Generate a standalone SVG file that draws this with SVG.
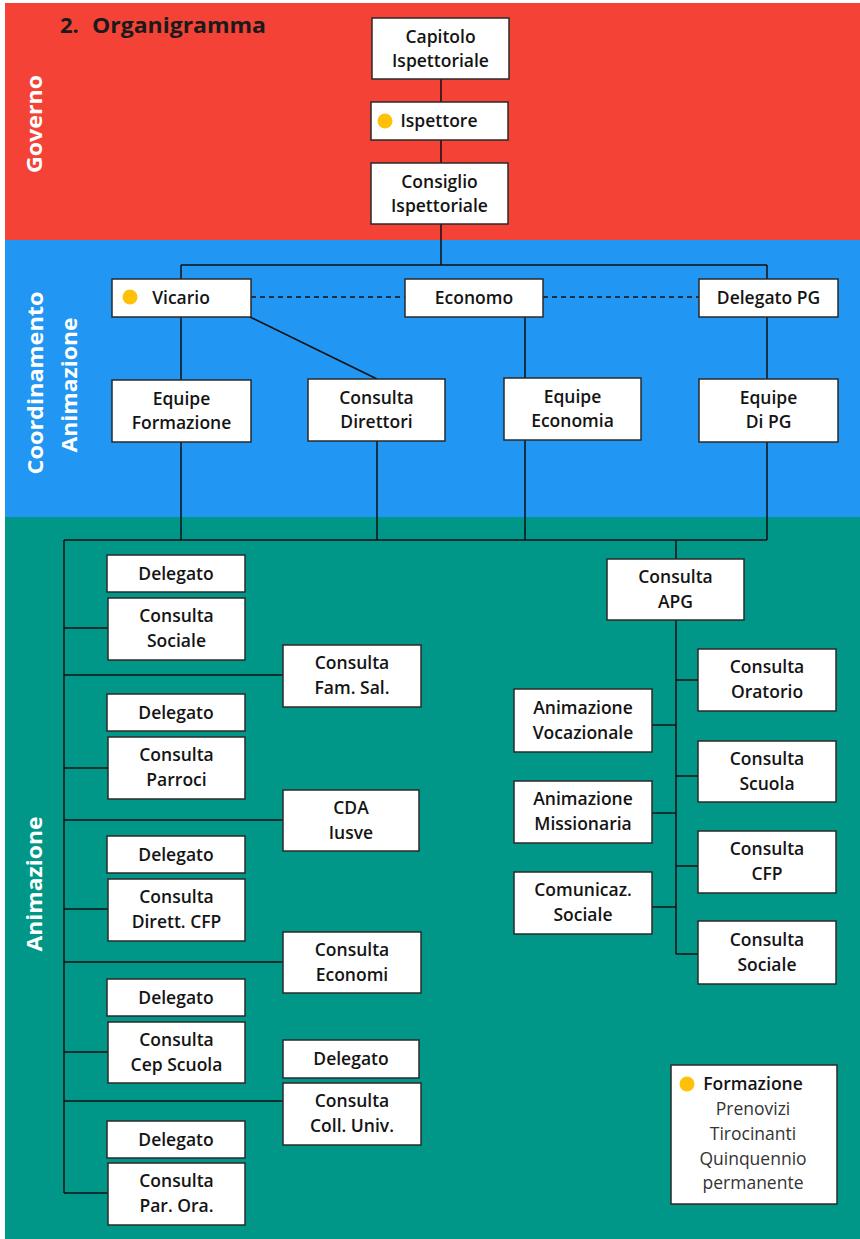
<svg xmlns="http://www.w3.org/2000/svg" width="860" height="1239" viewBox="0 0 860 1239">
<style>
.box{fill:#fff;stroke:#2a2a2a;stroke-width:1.5}
.t{font-family:"Open Sans","Noto Sans",sans-serif;font-size:17.5px;font-weight:600;fill:#141414;text-anchor:middle}
.side{font-family:"Open Sans","Noto Sans",sans-serif;font-size:22px;font-weight:700;fill:#fff;text-anchor:middle}
.lg{font-family:"Open Sans","Noto Sans",sans-serif;font-size:17.5px;font-weight:400;fill:#333;text-anchor:middle}
.ln{fill:none;stroke:#111;stroke-width:1.5}
.dash{fill:none;stroke:#111;stroke-width:1.5;stroke-dasharray:5 4}
.dot{fill:#FFC107}
</style>
<rect x="0" y="0" width="860" height="1239" fill="#fff"/>
<g id="bands">
<rect x="5" y="3" width="855" height="237" fill="#F44336"/>
<rect x="5" y="240" width="855" height="277" fill="#2196F3"/>
<rect x="5" y="517" width="855" height="722" fill="#009688"/>
</g>
<g id="labels">
<text x="60" y="33" font-family="'Open Sans','Noto Sans',sans-serif" font-size="22" font-weight="700" fill="#1a1a1a">2.</text>
<text x="92" y="33" font-family="'Open Sans','Noto Sans',sans-serif" font-size="22" font-weight="700" fill="#1a1a1a" textLength="174" lengthAdjust="spacingAndGlyphs">Organigramma</text>
<text class="side" transform="translate(42,124) rotate(-90)" textLength="98" lengthAdjust="spacingAndGlyphs">Governo</text>
<text class="side" transform="translate(43,383) rotate(-90)" textLength="183" lengthAdjust="spacingAndGlyphs">Coordinamento</text>
<text class="side" transform="translate(77,385) rotate(-90)" textLength="135" lengthAdjust="spacingAndGlyphs">Animazione</text>
<text class="side" transform="translate(42,884) rotate(-90)" textLength="135" lengthAdjust="spacingAndGlyphs">Animazione</text>
</g>
<g id="connectors">
<path class="ln" d="M441 79V102M441 140V163M441 224V265M181 265H767M181 265V279M181 317V380M767 265V279M767 317V379M250 317L377 379M525 317V378"/>
<path class="dash" d="M251 297H405M543 297H699"/>
<path class="ln" d="M181 442V540M377 441V540M525 440V540M767 442V540M64 540H767M64 540V1193"/>
<path class="ln" d="M64 628H108M64 675H283M64 768H108M64 820H283M64 909H108M64 962H283M64 1052H108M64 1101H283M64 1193H108"/>
<path class="ln" d="M676 540V559M676 620V954M676 680H698M652 725H676M676 776H698M652 813H676M676 866H698M652 907H676M676 954H698"/>
</g>
<g id="capitolo"><rect class="box" x="372" y="18" width="137" height="61"/><text class="t" x="440.5" y="43">Capitolo</text><text class="t" x="440.5" y="67">Ispettoriale</text></g>
<g id="ispettore"><rect class="box" x="371" y="102" width="137" height="38"/><circle class="dot" cx="385" cy="121" r="7.5"/><text class="t" x="439" y="127">Ispettore</text></g>
<g id="consiglio"><rect class="box" x="371" y="163" width="137" height="61"/><text class="t" x="439.5" y="188">Consiglio</text><text class="t" x="439.5" y="212">Ispettoriale</text></g>
<g id="vicario"><rect class="box" x="112" y="279" width="139" height="38"/><circle class="dot" cx="130" cy="297" r="7.5"/><text class="t" x="181" y="304">Vicario</text></g>
<g id="economo"><rect class="box" x="405" y="279" width="138" height="38"/><text class="t" x="474" y="304">Economo</text></g>
<g id="delegato-pg"><rect class="box" x="699" y="279" width="139" height="38"/><text class="t" x="768.5" y="304">Delegato PG</text></g>
<g id="equipe-formazione"><rect class="box" x="112" y="380" width="139" height="62"/><text class="t" x="181.5" y="405">Equipe</text><text class="t" x="181.5" y="429">Formazione</text></g>
<g id="consulta-direttori"><rect class="box" x="308" y="379" width="137" height="62"/><text class="t" x="376.5" y="404">Consulta</text><text class="t" x="376.5" y="428">Direttori</text></g>
<g id="equipe-economia"><rect class="box" x="504" y="378" width="137" height="62"/><text class="t" x="572.5" y="403">Equipe</text><text class="t" x="572.5" y="427">Economia</text></g>
<g id="equipe-pg"><rect class="box" x="699" y="379" width="139" height="63"/><text class="t" x="768.5" y="404">Equipe</text><text class="t" x="768.5" y="428">Di PG</text></g>
<g id="delegato-1"><rect class="box" x="107" y="555" width="138" height="37"/><text class="t" x="176" y="580">Delegato</text></g>
<g id="consulta-sociale"><rect class="box" x="108" y="598" width="137" height="62"/><text class="t" x="176.5" y="622">Consulta</text><text class="t" x="176.5" y="647">Sociale</text></g>
<g id="consulta-fam-sal"><rect class="box" x="283" y="645" width="138" height="62"/><text class="t" x="352" y="669">Consulta</text><text class="t" x="352" y="694">Fam. Sal.</text></g>
<g id="delegato-2"><rect class="box" x="107" y="694" width="138" height="37"/><text class="t" x="176" y="719">Delegato</text></g>
<g id="consulta-parroci"><rect class="box" x="108" y="737" width="137" height="62"/><text class="t" x="176.5" y="761">Consulta</text><text class="t" x="176.5" y="786">Parroci</text></g>
<g id="cda-iusve"><rect class="box" x="283" y="790" width="136" height="61"/><text class="t" x="351" y="814">CDA</text><text class="t" x="351" y="839">Iusve</text></g>
<g id="delegato-3"><rect class="box" x="107" y="836" width="138" height="37"/><text class="t" x="176" y="861">Delegato</text></g>
<g id="consulta-dirett-cfp"><rect class="box" x="108" y="879" width="137" height="62"/><text class="t" x="176.5" y="903">Consulta</text><text class="t" x="176.5" y="928">Dirett. CFP</text></g>
<g id="consulta-economi"><rect class="box" x="283" y="932" width="138" height="61"/><text class="t" x="352" y="956">Consulta</text><text class="t" x="352" y="981">Economi</text></g>
<g id="delegato-4"><rect class="box" x="107" y="979" width="138" height="37"/><text class="t" x="176" y="1004">Delegato</text></g>
<g id="consulta-cep-scuola"><rect class="box" x="108" y="1022" width="137" height="61"/><text class="t" x="176.5" y="1046">Consulta</text><text class="t" x="176.5" y="1071">Cep Scuola</text></g>
<g id="delegato-coll"><rect class="box" x="283" y="1040" width="136" height="38"/><text class="t" x="351" y="1065">Delegato</text></g>
<g id="consulta-coll-univ"><rect class="box" x="283" y="1083" width="138" height="62"/><text class="t" x="352" y="1107">Consulta</text><text class="t" x="352" y="1132">Coll. Univ.</text></g>
<g id="delegato-5"><rect class="box" x="107" y="1121" width="138" height="37"/><text class="t" x="176" y="1146">Delegato</text></g>
<g id="consulta-par-ora"><rect class="box" x="108" y="1163" width="137" height="62"/><text class="t" x="176.5" y="1187">Consulta</text><text class="t" x="176.5" y="1212">Par. Ora.</text></g>
<g id="consulta-apg"><rect class="box" x="607" y="559" width="137" height="61"/><text class="t" x="675.5" y="583">Consulta</text><text class="t" x="675.5" y="608">APG</text></g>
<g id="consulta-oratorio"><rect class="box" x="698" y="649" width="138" height="62"/><text class="t" x="767" y="673">Consulta</text><text class="t" x="767" y="698">Oratorio</text></g>
<g id="animazione-vocazionale"><rect class="box" x="514" y="689" width="138" height="63"/><text class="t" x="583" y="714">Animazione</text><text class="t" x="583" y="739">Vocazionale</text></g>
<g id="consulta-scuola"><rect class="box" x="698" y="741" width="138" height="61"/><text class="t" x="767" y="765">Consulta</text><text class="t" x="767" y="790">Scuola</text></g>
<g id="animazione-missionaria"><rect class="box" x="514" y="781" width="138" height="62"/><text class="t" x="583" y="805">Animazione</text><text class="t" x="583" y="830">Missionaria</text></g>
<g id="consulta-cfp"><rect class="box" x="698" y="831" width="138" height="62"/><text class="t" x="767" y="855">Consulta</text><text class="t" x="767" y="880">CFP</text></g>
<g id="comunicaz-sociale"><rect class="box" x="514" y="872" width="138" height="62"/><text class="t" x="583" y="896">Comunicaz.</text><text class="t" x="583" y="921">Sociale</text></g>
<g id="consulta-sociale-apg"><rect class="box" x="698" y="921" width="138" height="63"/><text class="t" x="767" y="946">Consulta</text><text class="t" x="767" y="971">Sociale</text></g>
<g id="legenda"><rect class="box" x="671" y="1065" width="166" height="139"/><circle class="dot" cx="687" cy="1084" r="7.5"/><text class="t" x="753" y="1090" font-weight="700">Formazione</text><text class="lg" x="753" y="1115">Prenovizi</text><text class="lg" x="753" y="1140">Tirocinanti</text><text class="lg" x="753" y="1165">Quinquennio</text><text class="lg" x="753" y="1189">permanente</text></g>
</svg>
